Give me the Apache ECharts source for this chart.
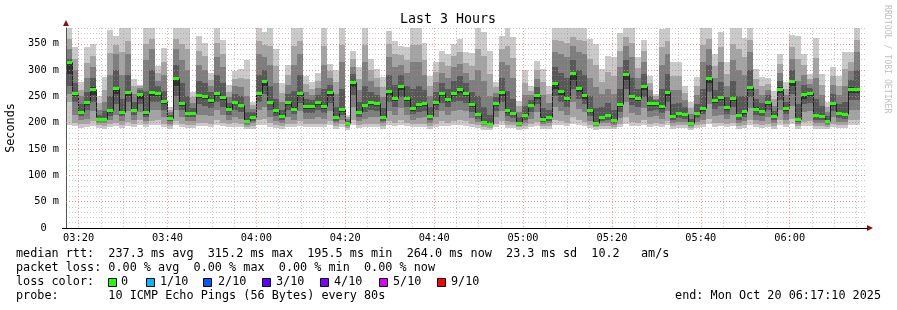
<!DOCTYPE html>
<html><head><meta charset="utf-8">
<script src="https://cdn.jsdelivr.net/npm/echarts@6/dist/echarts.min.js"></script>
<style>html,body{margin:0;padding:0;background:#fff}#c{width:897px;height:310px}</style>
</head><body><div id="c"></div>
<script>
// ---------- DATA ----------
const axisStart = '03:17:10';
const spanSeconds = 10800;
const stepSeconds = 80;
const categoryStep = 10;
const tickLabels = ['03:20','03:40','04:00','04:20','04:40','05:00','05:20','05:40','06:00'];
const lossLabels = ['0','1/10','2/10','3/10','4/10','5/10','9/10'];
const lossColors = ['#26ff00','#00b8ff','#0059ff','#5e00ff','#7e00ff','#dd00ff','#ff0000'];

const median = [315,256,220,239,265,207,207,224,266,220, 258,225,254,220,258,257,242,209,285,238,
 218,218,253,251,244,256,249,227,240,234, 204,211,256,280,240,224,212,239,227,256,
 231,232,239,232,258,211,226,199,278,220, 234,239,237,210,261,247,270,247,228,235,
 238,213,239,256,245,257,264,256,235,216, 202,197,237,258,224,218,200,214,234,253,
 208,211,275,261,247,294,266,253,224,200, 211,215,205,235,292,251,247,270,237,237,
 231,258,213,218,217,199,219,228,285,243, 249,230,247,215,222,268,227,223,239,212,
 265,228,280,207,254,256,215,213,204,238, 218,216,265,264];
const ping01 = [196,193,190,191,194,190,189,192,193,190, 194,191,196,192,195,196,192,188,195,192,
 190,190,193,193,192,195,193,191,192,191, 188,189,195,196,192,190,189,192,191,194,
 191,191,192,191,195,189,191,186,196,190, 191,192,192,189,195,193,196,193,191,192,
 192,189,192,194,193,195,195,194,192,190, 187,186,192,195,190,190,187,189,191,194,
 188,189,196,195,193,198,195,194,190,187, 189,189,188,192,198,194,193,196,192,194,
 191,195,189,190,190,186,190,191,197,192, 193,191,193,189,190,196,191,190,192,189,
 195,191,197,188,194,194,189,189,188,192, 190,190,195,195];
const ping02 = [240,200,197,198,203,195,194,198,200,196, 202,197,205,198,203,205,198,193,204,198,
 196,196,200,200,198,205,200,197,199,198, 192,194,205,208,199,196,194,198,197,203,
 197,197,198,197,204,194,197,190,206,196, 198,198,198,194,204,200,206,200,197,198,
 198,194,198,203,200,204,205,203,198,195, 191,190,198,204,196,195,191,194,198,202,
 193,194,206,204,200,210,205,202,196,191, 194,194,192,198,210,202,200,206,198,200,
 197,204,194,195,195,190,195,197,208,199, 200,197,200,194,196,206,197,196,198,194,
 205,197,208,193,202,203,194,194,192,198, 195,195,205,205];
const ping03 = [255,215,205,207,222,199,199,205,215,203, 222,205,220,204,225,225,210,198,225,210,
 203,203,215,215,212,225,215,205,210,208, 196,199,225,230,210,204,200,210,206,222,
 207,207,210,207,222,199,206,193,230,203, 208,210,210,199,223,215,228,215,206,209,
 210,200,210,222,214,222,225,222,209,202, 195,193,210,222,204,202,194,200,208,220,
 198,199,230,223,215,240,226,220,204,194, 199,200,196,209,240,218,215,228,210,212,
 207,222,200,202,202,193,202,206,235,212, 215,207,215,200,203,228,205,204,210,200,
 225,206,232,197,220,222,200,200,196,210, 202,202,225,225];
const ping04 = [270,240,212,225,240,203,203,213,235,212, 240,215,235,210,240,240,225,203,250,225,
 210,210,235,232,228,240,230,215,225,220, 199,204,240,255,225,213,205,225,216,238,
 218,218,224,218,238,204,215,195,252,211, 220,224,222,204,240,230,248,230,216,221,
 223,205,224,238,229,239,242,238,221,208, 198,195,222,240,213,209,197,206,220,235,
 202,204,250,240,230,265,245,236,213,197, 204,206,200,221,265,234,230,248,222,225,
 218,240,205,209,208,195,209,216,258,227, 231,217,230,206,211,248,215,212,224,205,
 244,216,255,201,235,238,206,205,199,223, 209,208,244,243];
const ping05 = [292,250,216,234,252,205,205,219,255,217, 250,220,245,215,250,250,235,206,270,232,
 215,215,247,245,238,250,243,222,235,229, 202,208,250,270,235,219,209,234,222,250,
 226,227,234,227,250,208,221,197,268,216, 229,234,232,207,253,241,262,241,223,230,
 232,209,234,250,239,250,256,250,230,213, 200,196,232,250,219,214,199,210,229,246,
 205,208,265,253,241,282,258,246,219,199, 208,211,203,230,282,245,241,262,232,232,
 226,250,209,214,213,197,214,223,275,238, 243,225,241,211,217,262,222,218,234,209,
 257,223,270,204,246,250,211,209,202,232, 214,213,257,256];
const ping06 = [316,258,222,241,267,209,209,226,268,222, 260,227,256,222,260,259,244,211,287,240,
 220,220,255,253,246,258,251,229,242,236, 206,213,258,282,242,226,214,241,229,258,
 233,234,241,234,260,213,228,201,280,222, 236,241,239,212,263,249,272,249,230,237,
 240,215,241,258,247,259,266,258,237,218, 204,199,239,260,226,220,202,216,236,255,
 210,213,277,263,249,296,268,255,226,202, 213,217,207,237,294,253,249,272,239,239,
 233,260,215,220,219,201,221,230,287,245, 251,232,249,217,224,270,229,225,241,214,
 267,230,282,209,256,258,217,215,206,240, 220,218,267,266];
const ping07 = [322,275,235,258,285,215,222,250,300,245, 290,240,262,260,300,270,260,215,310,275,
 250,228,280,275,258,290,275,238,255,250, 220,220,290,300,270,245,225,255,260,290,
 245,243,253,265,272,230,265,204,292,240, 270,258,252,228,290,272,290,270,265,270,
 262,230,258,275,264,280,288,275,258,250, 230,215,248,285,260,245,210,232,244,268,
 228,225,305,295,285,320,300,290,250,228, 230,238,225,265,320,285,265,292,250,243,
 265,292,235,238,230,208,235,265,310,262, 278,248,280,250,250,300,245,238,252,222,
 280,240,300,235,272,266,245,232,213,255, 235,240,282,300];
const ping08 = [340,300,250,285,305,225,240,290,330,290, 330,255,266,320,340,280,290,220,340,320,
 300,238,310,300,270,325,305,248,270,268, 250,227,330,325,310,275,240,272,310,330,
 258,253,266,310,285,255,315,207,305,262, 315,280,268,248,325,305,310,295,315,315,
 290,250,278,295,285,305,312,295,282,300, 280,250,257,315,310,285,220,252,252,283,
 252,238,335,330,325,345,335,330,285,268, 255,265,255,305,345,325,285,315,262,246,
 310,330,262,263,243,217,252,315,340,285, 315,270,320,300,290,335,265,253,263,232,
 295,252,322,280,290,274,285,252,221,272, 252,270,298,335];
const ping09 = [360,322,263,314,327,238,263,333,347,335, 355,269,269,350,360,294,316,224,360,350,
 340,248,337,326,282,352,331,259,284,285, 284,233,355,348,345,307,257,291,345,355,
 273,265,280,345,298,277,347,211,321,283, 347,300,285,267,350,330,328,319,347,347,
 320,269,296,316,307,327,335,314,307,340, 326,293,267,340,345,323,231,276,261,300,
 277,254,357,355,352,362,357,355,322,309, 278,296,289,337,362,352,304,336,275,250,
 344,355,288,289,256,228,269,347,360,307, 343,292,350,340,325,357,283,269,274,246,
 312,264,344,322,310,283,323,272,230,289, 270,302,316,357];
const ping10 = [381,344,277,344,350,251,287,376,365,380, 380,284,272,380,380,308,342,229,380,380,
 380,258,365,352,295,380,357,271,299,302, 319,240,380,372,380,340,275,310,380,380,
 289,277,294,380,311,300,380,215,337,305, 380,321,302,286,375,356,346,343,380,380,
 351,289,315,337,330,349,359,334,332,380, 372,337,277,365,380,362,242,300,270,318,
 302,270,380,380,380,380,380,380,359,350, 302,327,324,370,380,380,324,357,289,254,
 378,380,315,315,270,239,286,380,380,330, 372,315,380,380,361,380,302,286,285,261,
 330,277,367,365,330,292,361,292,239,306, 289,334,334,380];

const legendLine1 = 'median rtt:  237.3 ms avg  315.2 ms max  195.5 ms min  264.0 ms now  23.3 ms sd  10.2   am/s';
const legendLine2 = 'packet loss: 0.00 % avg  0.00 % max  0.00 % min  0.00 % now';
const legendLine3 = 'loss color:';
const legendLine4 = 'probe:       10 ICMP Echo Pings (56 Bytes) every 80s';
const endText = 'end: Mon Oct 20 06:17:10 2025';

// ---------- BUILD ----------
const FONT = '"DejaVu Sans Mono", monospace';
const pad = n => String(n).padStart(2, '0');
const [sh, sm, ss] = axisStart.split(':').map(Number);
const startSec = sh * 3600 + sm * 60 + ss;
const cats = [];
for (let s = 0; s <= spanSeconds; s += categoryStep) {
  const t = startSec + s;
  cats.push(pad(Math.floor(t / 3600)) + ':' + pad(Math.floor(t / 60) % 60) + ':' + pad(t % 60));
}
const majorSet = new Set(tickLabels.map(t => t + ':00'));
const isMajor = (i, v) => majorSet.has(v);
const isMinor = (i, v) => v.endsWith(':00') && (+v.slice(3, 5)) % 5 === 0 && !majorSet.has(v);

const perStep = stepSeconds / categoryStep;
const pings = [ping01, ping02, ping03, ping04, ping05, ping06, ping07, ping08, ping09, ping10];
const seriesData = median.map((m, k) => [k * perStep, (k + 1) * perStep]
  .concat(pings.map(p => p[k])).concat([m, k > 0 ? median[k - 1] : m]));

const shades = ['#cacaca', '#a4a4a4', '#7e7e7e', '#585858', '#323232'];
function renderItem(params, api) {
  const x0 = Math.round(api.coord([api.value(0), 0])[0]);
  const x1 = Math.round(api.coord([api.value(1), 0])[0]);
  const children = [];
  for (let b = 0; b < 5; b++) {
    const ylo = Math.round(api.coord([0, api.value(2 + b)])[1]);
    const yhi = Math.round(api.coord([0, api.value(11 - b)])[1]);
    children.push({ type: 'rect', shape: { x: x0, y: yhi, width: x1 - x0, height: Math.max(0, ylo - yhi) },
      style: { fill: shades[b] } });
  }
  const ym = Math.round(api.coord([0, api.value(12)])[1]);
  const yp = Math.round(api.coord([0, api.value(13)])[1]);
  children.push({ type: 'line', shape: { x1: x0 + 0.5, y1: yp + 0.5, x2: x0 + 0.5, y2: ym + 0.5 },
    style: { stroke: '#202020', lineWidth: 1 } });
  children.push({ type: 'line', shape: { x1: x0, y1: ym + 0.5, x2: x1, y2: ym + 0.5 },
    style: { stroke: '#202020', lineWidth: 1 } });
  children.push({ type: 'rect', shape: { x: x0, y: ym - 1, width: x1 - x0, height: 3 },
    style: { fill: lossColors[0] } });
  return { type: 'group', children };
}

const minorLine = { show: true, lineStyle: { color: 'rgba(150,150,150,0.5)', width: 1, type: [1, 2] } };
const majorLine = { show: true, lineStyle: { color: 'rgba(235,120,120,0.7)', width: 1, type: [1, 2] } };

const graphics = [
  { type: 'text', x: 448, y: 20, style: { text: 'Last 3 Hours', font: '13.3px ' + FONT, fill: '#000', align: 'center', verticalAlign: 'middle' } },
  { type: 'text', x: 11, y: 128, rotation: Math.PI / 2, style: { text: 'Seconds', font: '11.8px ' + FONT, fill: '#000', align: 'center', verticalAlign: 'middle' } },
  { type: 'text', x: 887, y: 5, rotation: -Math.PI / 2, style: { text: 'RRDTOOL / TOBI OETIKER', font: '8.2px ' + FONT, fill: '#c0c0c0', align: 'left', verticalAlign: 'middle' } },
  { type: 'polygon', shape: { points: [[63, 26], [69, 26], [66, 20]] }, style: { fill: '#8b1010' }, z: 20 },
  { type: 'polygon', shape: { points: [[867, 225], [867, 231], [873, 228]] }, style: { fill: '#8b1010' }, z: 20 },
  { type: 'line', shape: { x1: 62, y1: 228.5, x2: 868, y2: 228.5 }, style: { stroke: '#000', lineWidth: 1 }, z: 20 },
  { type: 'text', x: 16, y: 254, style: { text: legendLine1, font: '11.8px ' + FONT, fill: '#000', verticalAlign: 'middle' } },
  { type: 'text', x: 16, y: 268, style: { text: legendLine2, font: '11.8px ' + FONT, fill: '#000', verticalAlign: 'middle' } },
  { type: 'text', x: 16, y: 282, style: { text: legendLine3, font: '11.8px ' + FONT, fill: '#000', verticalAlign: 'middle' } },
  { type: 'text', x: 16, y: 296, style: { text: legendLine4, font: '11.8px ' + FONT, fill: '#000', verticalAlign: 'middle' } },
  { type: 'text', x: 881, y: 296, style: { text: endText, font: '11.8px ' + FONT, fill: '#000', align: 'right', verticalAlign: 'middle' } }
];
const squareX = [108, 146, 203, 262, 320, 379, 437];
const labelX = [121, 160, 218, 276, 334, 393, 451];
lossLabels.forEach((lab, i) => {
  graphics.push({ type: 'rect', shape: { x: squareX[i] + 0.5, y: 278.5, width: 8, height: 8 }, style: { fill: lossColors[i], stroke: '#000', lineWidth: 1 } });
  graphics.push({ type: 'text', x: labelX[i], y: 282, style: { text: lab, font: '11.8px ' + FONT, fill: '#000', verticalAlign: 'middle' } });
});

const chart = echarts.init(document.getElementById('c'));
chart.setOption({
  animation: false,
  backgroundColor: '#fff',
  grid: { left: 66, right: 31, top: 28, bottom: 82, containLabel: false },
  xAxis: [
    { type: 'category', data: cats, boundaryGap: false, z: 6,
      axisLine: { show: false }, axisTick: { show: false },
      axisLabel: { interval: isMajor, formatter: v => v.slice(0, 5), fontFamily: FONT, fontSize: 10.3, color: '#000', margin: 5, hideOverlap: false },
      splitLine: Object.assign({ interval: isMajor }, majorLine) },
    { type: 'category', data: cats, boundaryGap: false, z: 5, position: 'bottom',
      axisLine: { show: false }, axisTick: { show: false }, axisLabel: { show: false },
      splitLine: Object.assign({ interval: isMinor }, minorLine) }
  ],
  yAxis: [
    { type: 'value', min: 0, max: 380, interval: 10, z: 5,
      axisLine: { show: true, lineStyle: { color: '#555' } }, axisTick: { show: false }, axisLabel: { show: false },
      splitLine: minorLine },
    { type: 'value', min: 0, max: 380, interval: 50, z: 6, position: 'left',
      axisLine: { show: false }, axisTick: { show: false },
      axisLabel: { formatter: v => v === 0 ? '0  ' : v + ' m', fontFamily: FONT, fontSize: 10.3, color: '#000', margin: 7, showMaxLabel: false },
      splitLine: Object.assign({ showMaxLine: false, showMinLine: false }, majorLine) }
  ],
  series: [{ type: 'custom', xAxisIndex: 0, yAxisIndex: 0, clip: true, renderItem, data: seriesData,
    encode: { x: [0, 1], y: [2, 11] }, z: 2 }],
  graphic: graphics
});
</script></body></html>
